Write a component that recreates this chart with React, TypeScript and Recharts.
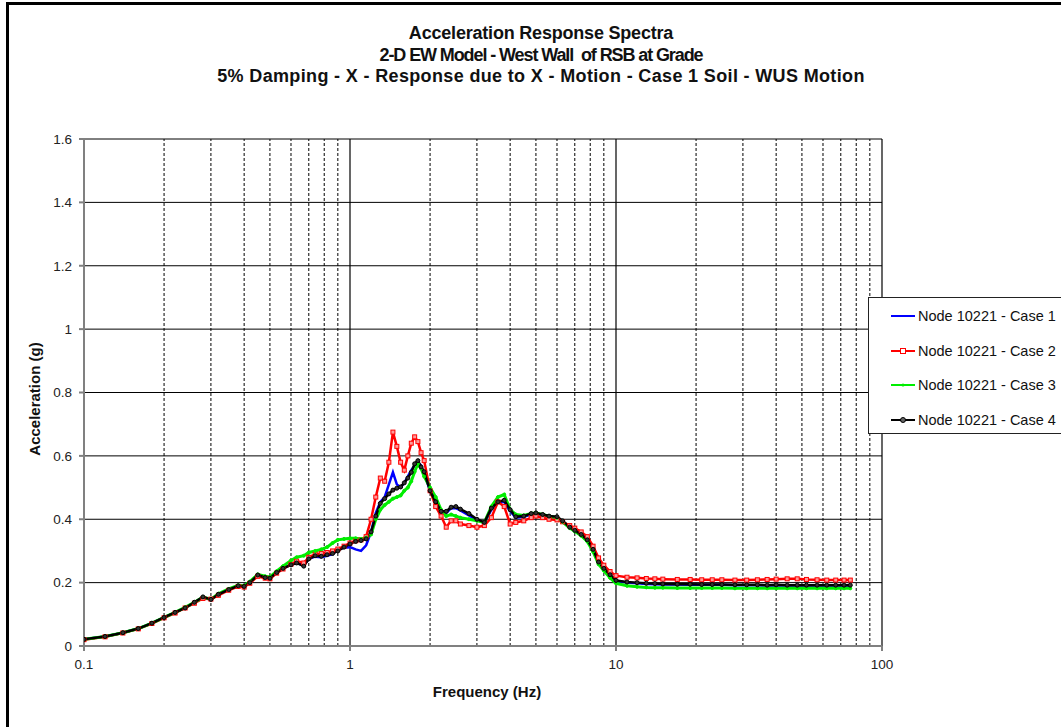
import {
  LineChart,
  Line,
  XAxis,
  YAxis,
  CartesianGrid,
  ReferenceLine,
  Legend,
} from 'recharts'

// frequency points (Hz)
const freq = [
  0.1, 0.12, 0.14, 0.16, 0.18, 0.2, 0.22, 0.24, 0.26, 0.28,
  0.3, 0.32, 0.35, 0.38, 0.4, 0.42, 0.45, 0.48, 0.5, 0.53,
  0.56, 0.6, 0.63, 0.67, 0.7, 0.74, 0.78, 0.82, 0.86, 0.9,
  0.95, 1.0, 1.05, 1.1, 1.15, 1.2, 1.25, 1.3, 1.35, 1.4,
  1.45, 1.5, 1.55, 1.6, 1.65, 1.7, 1.75, 1.8, 1.85, 1.9,
  2.0, 2.1, 2.2, 2.3, 2.4, 2.5, 2.6, 2.8, 3.0, 3.2,
  3.4, 3.6, 3.8, 4.0, 4.2, 4.5, 4.8, 5.0, 5.3, 5.6,
  6.0, 6.3, 6.7, 7.0, 7.4, 7.8, 8.2, 8.6, 9.0, 9.5,
  10, 11, 12, 13, 14, 15, 17, 19, 21, 23,
  25, 28, 31, 34, 37, 40, 44, 48, 52, 57,
  62, 67, 72, 76,
]

// spectral acceleration (g)
const case1 = [
  0.021, 0.030, 0.042, 0.055, 0.072, 0.090, 0.105, 0.121, 0.137, 0.153,
  0.146, 0.163, 0.178, 0.190, 0.188, 0.200, 0.224, 0.216, 0.214, 0.232,
  0.245, 0.256, 0.262, 0.255, 0.275, 0.282, 0.280, 0.285, 0.290, 0.305,
  0.310, 0.312, 0.305, 0.300, 0.318, 0.360, 0.420, 0.455, 0.470, 0.510,
  0.548, 0.510, 0.500, 0.515, 0.535, 0.555, 0.570, 0.580, 0.570, 0.545,
  0.490, 0.455, 0.420, 0.420, 0.435, 0.435, 0.428, 0.412, 0.398, 0.388,
  0.430, 0.452, 0.455, 0.425, 0.405, 0.408, 0.415, 0.418, 0.413, 0.408,
  0.405, 0.392, 0.373, 0.362, 0.350, 0.332, 0.302, 0.262, 0.243, 0.223,
  0.205, 0.200, 0.198, 0.196, 0.195, 0.194, 0.194, 0.193, 0.193, 0.193,
  0.193, 0.192, 0.192, 0.192, 0.191, 0.192, 0.191, 0.191, 0.191, 0.191,
  0.191, 0.191, 0.191, 0.191,
]

const case2 = [
  0.020, 0.029, 0.041, 0.054, 0.071, 0.089, 0.104, 0.120, 0.135, 0.150,
  0.148, 0.160, 0.176, 0.188, 0.186, 0.198, 0.220, 0.214, 0.212, 0.230,
  0.243, 0.258, 0.268, 0.262, 0.280, 0.290, 0.292, 0.295, 0.300, 0.306,
  0.315, 0.325, 0.332, 0.335, 0.345, 0.400, 0.470, 0.530, 0.520, 0.580,
  0.675, 0.630, 0.580, 0.555, 0.600, 0.640, 0.660, 0.645, 0.610, 0.585,
  0.490, 0.440, 0.410, 0.375, 0.395, 0.395, 0.385, 0.380, 0.375, 0.380,
  0.405, 0.455, 0.440, 0.385, 0.390, 0.395, 0.405, 0.410, 0.405, 0.400,
  0.398, 0.392, 0.380, 0.372, 0.360, 0.345, 0.315, 0.278, 0.255, 0.235,
  0.222, 0.217, 0.215, 0.213, 0.212, 0.211, 0.210, 0.210, 0.209, 0.209,
  0.209, 0.208, 0.208, 0.209, 0.210, 0.211, 0.212, 0.212, 0.210, 0.209,
  0.208, 0.208, 0.208, 0.208,
]

const case3 = [
  0.021, 0.030, 0.042, 0.055, 0.072, 0.090, 0.106, 0.122, 0.138, 0.154,
  0.148, 0.165, 0.180, 0.192, 0.190, 0.203, 0.226, 0.220, 0.218, 0.236,
  0.252, 0.270, 0.280, 0.285, 0.295, 0.300, 0.305, 0.312, 0.325, 0.335,
  0.338, 0.340, 0.340, 0.338, 0.342, 0.352, 0.400, 0.430, 0.445, 0.455,
  0.465, 0.470, 0.475, 0.490, 0.500, 0.520, 0.550, 0.575, 0.560, 0.535,
  0.500, 0.470, 0.430, 0.410, 0.415, 0.410, 0.405, 0.400, 0.395, 0.390,
  0.440, 0.470, 0.478, 0.430, 0.415, 0.412, 0.418, 0.420, 0.415, 0.410,
  0.405, 0.392, 0.372, 0.362, 0.348, 0.330, 0.298, 0.258, 0.238, 0.215,
  0.198, 0.190, 0.187, 0.185, 0.184, 0.184, 0.183, 0.183, 0.183, 0.183,
  0.183, 0.182, 0.182, 0.182, 0.182, 0.182, 0.182, 0.182, 0.182, 0.182,
  0.182, 0.182, 0.182, 0.182,
]

const case4 = [
  0.021, 0.030, 0.042, 0.055, 0.072, 0.090, 0.106, 0.120, 0.138, 0.155,
  0.147, 0.163, 0.178, 0.190, 0.188, 0.200, 0.224, 0.216, 0.214, 0.232,
  0.245, 0.256, 0.262, 0.252, 0.275, 0.285, 0.283, 0.288, 0.292, 0.300,
  0.312, 0.322, 0.330, 0.333, 0.338, 0.360, 0.410, 0.450, 0.465, 0.480,
  0.492, 0.498, 0.502, 0.515, 0.530, 0.548, 0.575, 0.585, 0.565, 0.550,
  0.490, 0.455, 0.425, 0.425, 0.438, 0.440, 0.432, 0.418, 0.400, 0.390,
  0.435, 0.455, 0.460, 0.430, 0.408, 0.410, 0.418, 0.420, 0.415, 0.410,
  0.408, 0.395, 0.375, 0.365, 0.352, 0.335, 0.305, 0.265, 0.245, 0.225,
  0.207, 0.202, 0.200, 0.198, 0.197, 0.196, 0.195, 0.195, 0.194, 0.194,
  0.194, 0.193, 0.193, 0.193, 0.192, 0.193, 0.192, 0.192, 0.192, 0.192,
  0.192, 0.192, 0.192, 0.192,
]

const seriesNames = [
  'Node 10221 - Case 1',
  'Node 10221 - Case 2',
  'Node 10221 - Case 3',
  'Node 10221 - Case 4',
]
const seriesColors = ['#0000ff', '#ff0000', '#00ee00', '#000000']

const titleLines = [
  'Acceleration Response Spectra',
  '2-D EW Model - West Wall  of RSB at Grade',
  '5% Damping - X - Response due to X - Motion - Case 1 Soil - WUS Motion',
]
// per-line letter spacing to match the original line widths
const titleSpacing = [-0.2, -1.1, 0.35]

const xTicks = [0.1, 1, 10, 100]
const yTicks = [0, 0.2, 0.4, 0.6, 0.8, 1, 1.2, 1.4, 1.6]
const majorX = [1, 10, 100]
const minorX = [
  0.2, 0.3, 0.4, 0.5, 0.6, 0.7, 0.8, 0.9,
  2, 3, 4, 5, 6, 7, 8, 9,
  20, 30, 40, 50, 60, 70, 80, 90,
]

const data = freq.map((f, i) => ({
  f,
  c1: case1[i],
  c2: case2[i],
  c3: case3[i],
  c4: case4[i],
}))

const font = '"Liberation Sans", Arial, sans-serif'

const SquareDot = (props: any) => {
  const { cx, cy, index } = props
  if (cx == null || cy == null) return <g key={`sq-${index}`} />
  return (
    <rect
      key={`sq-${index}`}
      x={cx - 2}
      y={cy - 2}
      width={4}
      height={4}
      fill="#ff9a9a"
      stroke="#ff0000"
      strokeWidth={1}
    />
  )
}

function LegendIcon({ i }: { i: number }) {
  const c = seriesColors[i]
  return (
    <svg width={24} height={10} style={{ display: 'block' }}>
      <line x1={0} y1={5} x2={24} y2={5} stroke={c} strokeWidth={2} />
      {i === 1 && <rect x={9.5} y={2.5} width={5} height={5} fill="#fff" stroke={c} />}
      {i === 2 && <circle cx={12} cy={5} r={1.5} fill={c} />}
      {i === 3 && <circle cx={12} cy={5} r={2.5} fill="#666" stroke="#000" />}
    </svg>
  )
}

function LegendBox() {
  return (
    <div
      style={{
        position: 'relative',
        width: 200,
        height: 137,
        border: '1.5px solid #222',
        background: '#fff',
        boxSizing: 'border-box',
        fontFamily: font,
        fontSize: 14.5,
        color: '#111',
      }}
    >
      {seriesNames.map((name, i) => (
        <div
          key={name}
          style={{
            position: 'absolute',
            left: 22,
            top: 18 + i * 34.5 - 9,
            height: 18,
            display: 'flex',
            alignItems: 'center',
            whiteSpace: 'nowrap',
          }}
        >
          <LegendIcon i={i} />
          <span style={{ marginLeft: 3 }}>{name}</span>
        </div>
      ))}
    </div>
  )
}

const tickStyle = { fill: '#222', fontSize: 13.5, fontFamily: font }

export default function App() {
  return (
    <div
      style={{
        position: 'absolute',
        left: 0,
        top: 0,
        width: 1061,
        height: 727,
        background: '#fff',
        overflow: 'hidden',
      }}
    >
      <div
        style={{
          position: 'absolute',
          left: 6,
          top: 2,
          width: 1100,
          height: 800,
          borderLeft: '3px solid #000',
          borderTop: '3px solid #000',
        }}
      />
      {titleLines.map((t, i) => (
        <div
          key={t}
          style={{
            position: 'absolute',
            left: 0,
            width: 1082,
            top: 22 + i * 21.5,
            textAlign: 'center',
            fontFamily: font,
            fontWeight: 'bold',
            fontSize: 18,
            lineHeight: '22px',
            letterSpacing: titleSpacing[i],
            color: '#111',
            whiteSpace: 'pre',
          }}
        >
          {t}
        </div>
      ))}
      <div
        style={{
          position: 'absolute',
          left: 35 - 80,
          top: 399 - 10,
          width: 160,
          height: 20,
          lineHeight: '20px',
          textAlign: 'center',
          transform: 'rotate(-90deg)',
          fontFamily: font,
          fontWeight: 'bold',
          fontSize: 15,
          color: '#111',
        }}
      >
        Acceleration (g)
      </div>
      <div
        style={{
          position: 'absolute',
          left: 487 - 100,
          top: 692 - 10,
          width: 200,
          height: 20,
          lineHeight: '20px',
          textAlign: 'center',
          fontFamily: font,
          fontWeight: 'bold',
          fontSize: 15,
          color: '#111',
        }}
      >
        Frequency (Hz)
      </div>
      <div style={{ position: 'absolute', left: 0, top: 0 }}>
        <LineChart
          width={1061}
          height={727}
          data={data}
          margin={{ top: 139, right: 179, bottom: 51, left: 44 }}
        >
          <CartesianGrid horizontal vertical={false} stroke="#000" strokeWidth={1} />
          {minorX.map((x) => (
            <ReferenceLine key={`mn-${x}`} x={x} stroke="#000" strokeDasharray="3 2" strokeWidth={1} />
          ))}
          {majorX.map((x) => (
            <ReferenceLine key={`mj-${x}`} x={x} stroke="#000" strokeWidth={1.2} />
          ))}
          <XAxis
            dataKey="f"
            type="number"
            scale="log"
            domain={[0.1, 100]}
            ticks={xTicks}
            allowDataOverflow
            height={30}
            stroke="#808080"
            strokeWidth={2}
            tickSize={5}
            tickMargin={8}
            fontSize={13.5}
            tick={tickStyle}
          />
          <YAxis
            type="number"
            domain={[0, 1.6]}
            ticks={yTicks}
            width={40}
            stroke="#808080"
            strokeWidth={2}
            tickSize={5}
            tickMargin={7}
            fontSize={13.5}
            tick={tickStyle}
          />
          <Line
            dataKey="c1"
            name={seriesNames[0]}
            stroke={seriesColors[0]}
            strokeWidth={2.5}
            dot={false}
            isAnimationActive={false}
          />
          <Line
            dataKey="c2"
            name={seriesNames[1]}
            stroke={seriesColors[1]}
            strokeWidth={2.5}
            dot={SquareDot}
            isAnimationActive={false}
          />
          <Line
            dataKey="c3"
            name={seriesNames[2]}
            stroke={seriesColors[2]}
            strokeWidth={3}
            dot={{ r: 1.5, fill: seriesColors[2], stroke: seriesColors[2], strokeWidth: 1 }}
            isAnimationActive={false}
          />
          <Line
            dataKey="c4"
            name={seriesNames[3]}
            stroke={seriesColors[3]}
            strokeWidth={2.5}
            dot={{ r: 2, fill: '#333', stroke: '#000', strokeWidth: 1 }}
            isAnimationActive={false}
          />
          <Legend
            layout="vertical"
            align="center"
            verticalAlign="middle"
            content={<LegendBox />}
            wrapperStyle={{ left: 868, top: 297, width: 200 }}
          />
        </LineChart>
      </div>
    </div>
  )
}
